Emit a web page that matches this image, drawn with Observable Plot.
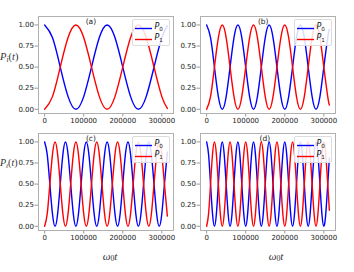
<!DOCTYPE html>
<html><head><meta charset="utf-8">
<script src="https://cdn.jsdelivr.net/npm/d3@7"></script>
<script src="https://cdn.jsdelivr.net/npm/@observablehq/plot@0.6"></script>
<style>
body{margin:0;background:#fff}
#fig{position:relative;width:354px;height:272px;overflow:hidden;background:#fff;font-family:"DejaVu Sans",sans-serif}
.panel{position:absolute}
.lab{position:absolute;font-family:"Liberation Serif",serif;color:#333;white-space:nowrap;line-height:1}
.lab sub{font-size:70%;vertical-align:-0.25em;font-style:normal;line-height:0}
.leg{position:absolute;width:38px;height:27px;box-sizing:border-box;background:rgba(255,255,255,0.85);border:1px solid #dcdcdc;border-radius:2px}
.leg svg{position:absolute;left:0;top:0}
.leg .t{position:absolute;left:22px;font-family:"DejaVu Sans",sans-serif;font-style:italic;font-size:8px;color:#111;line-height:1}
.leg .t sub{font-size:70%;font-style:normal;vertical-align:-0.3em;line-height:0}
</style></head>
<body>
<div id="fig"></div>
<script>
// time axis ticks / labels
const xTicks = [0, 100000, 200000, 300000];
const yTicks = [0, 0.25, 0.5, 0.75, 1.0];
const seriesNames = ["P0", "P1"];
const panelTags = ["(a)", "(b)", "(c)", "(d)"];

// panel (a)
const tA = [0,20000,40000,60000,80000,100000,120000,140000,160000,180000,200000,220000,240000,260000,280000,300000,314159];
const p0A = [1,.85,.5,.15,0,.15,.5,.85,1,.85,.5,.15,0,.15,.5,.85,.99];
const p1A = [0,.15,.5,.85,1,.85,.5,.15,0,.15,.5,.85,1,.85,.5,.15,.01];

// panel (b)
const tB = [0,10000,20000,30000,40000,50000,60000,70000,80000,90000,100000,110000,120000,130000,140000,150000,160000,170000,180000,190000,200000,210000,220000,230000,240000,250000,260000,270000,280000,290000,300000,310000,314159];
const p0B = [1,.85,.5,.15,0,.15,.5,.85,1,.85,.5,.15,0,.15,.5,.85,1,.85,.5,.15,0,.15,.5,.85,1,.85,.5,.15,0,.15,.5,.85,.95];
const p1B = [0,.15,.5,.85,1,.85,.5,.15,0,.15,.5,.85,1,.85,.5,.15,0,.15,.5,.85,1,.85,.5,.15,0,.15,.5,.85,1,.85,.5,.15,.05];

// panel (c)
const tC = [0,6667,13333,20000,26667,33333,40000,46667,53333,60000,66667,73333,80000,86667,93333,100000,106667,113333,120000,126667,133333,140000,146667,153333,160000,166667,173333,180000,186667,193333,200000,206667,213333,220000,226667,233333,240000,246667,253333,260000,266667,273333,280000,286667,293333,300000,306667,314159];
const p0C = [1,.85,.5,.15,0,.15,.5,.85,1,.85,.5,.15,0,.15,.5,.85,1,.85,.5,.15,0,.15,.5,.85,1,.85,.5,.15,0,.15,.5,.85,1,.85,.5,.15,0,.15,.5,.85,1,.85,.5,.15,0,.15,.5,.88];
const p1C = [0,.15,.5,.85,1,.85,.5,.15,0,.15,.5,.85,1,.85,.5,.15,0,.15,.5,.85,1,.85,.5,.15,0,.15,.5,.85,1,.85,.5,.15,0,.15,.5,.85,1,.85,.5,.15,0,.15,.5,.85,1,.85,.5,.12];

// panel (d)
const tD = [0,5000,10000,15000,20000,25000,30000,35000,40000,45000,50000,55000,60000,65000,70000,75000,80000,85000,90000,95000,100000,105000,110000,115000,120000,125000,130000,135000,140000,145000,150000,155000,160000,165000,170000,175000,180000,185000,190000,195000,200000,205000,210000,215000,220000,225000,230000,235000,240000,245000,250000,255000,260000,265000,270000,275000,280000,285000,290000,295000,300000,305000,310000,314159];
const p0D = [1,.85,.5,.15,0,.15,.5,.85,1,.85,.5,.15,0,.15,.5,.85,1,.85,.5,.15,0,.15,.5,.85,1,.85,.5,.15,0,.15,.5,.85,1,.85,.5,.15,0,.15,.5,.85,1,.85,.5,.15,0,.15,.5,.85,1,.85,.5,.15,0,.15,.5,.85,1,.85,.5,.15,0,.15,.5,.81];
const p1D = [0,.15,.5,.85,1,.85,.5,.15,0,.15,.5,.85,1,.85,.5,.15,0,.15,.5,.85,1,.85,.5,.15,0,.15,.5,.85,1,.85,.5,.15,0,.15,.5,.85,1,.85,.5,.15,0,.15,.5,.85,1,.85,.5,.15,0,.15,.5,.85,1,.85,.5,.15,0,.15,.5,.85,1,.85,.5,.19];

const fig = document.getElementById("fig");

function panel(t, p0, p1, tag, tagDx, left, top) {
  const rows0 = t.map((x, i) => ({t: x, p: p0[i]}));
  const rows1 = t.map((x, i) => ({t: x, p: p1[i]}));
  const svg = Plot.plot({
    width: 177, height: 130,
    marginLeft: 38, marginRight: 4, marginTop: 16, marginBottom: 17,
    style: {fontFamily: "DejaVu Sans", fontSize: "7px", color: "#222", background: "transparent", overflow: "visible"},
    x: {domain: [-15708, 329867]},
    y: {domain: [-0.05, 1.1]},
    marks: [
      Plot.axisX({ticks: xTicks, tickFormat: d3.format("d"), tickSize: 3.5, tickPadding: 1.5, label: null, stroke: "#999", fill: "#222"}),
      Plot.axisY({ticks: yTicks, tickFormat: d3.format(".2f"), tickSize: 3.5, tickPadding: 1, label: null, stroke: "#999", fill: "#222"}),
      Plot.line(rows0, {x: "t", y: "p", stroke: "#0000ff", strokeWidth: 1.4, curve: "natural"}),
      Plot.line(rows1, {x: "t", y: "p", stroke: "#ff0000", strokeWidth: 1.4, curve: "natural"}),
      Plot.frame({stroke: "#b0b0b0"}),
      Plot.text([tag], {text: d => d, frameAnchor: "top-left", dx: tagDx, dy: 5, textAnchor: "middle", lineAnchor: "middle", fontSize: 7.5, fill: "#222"})
    ]
  });
  const wrap = document.createElement("div");
  wrap.className = "panel";
  wrap.style.left = left + "px";
  wrap.style.top = top + "px";
  wrap.appendChild(svg);
  fig.appendChild(wrap);

  // legend (upper right of frame)
  const frameRight = left + 173, frameTop = top + 16;
  const leg = document.createElement("div");
  leg.className = "leg";
  leg.style.left = (frameRight - 41.5) + "px";
  leg.style.top = (frameTop + 2.5) + "px";
  leg.innerHTML =
    `<svg width="38" height="27"><line x1="2" x2="19" y1="8.5" y2="8.5" stroke="#0000ff" stroke-width="1.4"/>` +
    `<line x1="2" x2="19" y1="19.5" y2="19.5" stroke="#ff0000" stroke-width="1.4"/></svg>` +
    `<div class="t" style="top:3.5px">P<sub>0</sub></div>` +
    `<div class="t" style="top:14.5px">P<sub>1</sub></div>`;
  fig.appendChild(leg);
}

panel(tA, p0A, p1A, panelTags[0], 52.4, 0, 0);
panel(tB, p0B, p1B, panelTags[1], 62.7, 162, 0);
panel(tC, p0C, p1C, panelTags[2], 52.4, 0, 117);
panel(tD, p0D, p1D, panelTags[3], 64.3, 162, 117);

function label(html, x, y, size, anchorX) {
  const d = document.createElement("div");
  d.className = "lab";
  d.style.left = x + "px";
  d.style.top = y + "px";
  d.style.fontSize = size + "px";
  d.style.transform = `translate(${anchorX},-50%)`;
  d.innerHTML = html;
  fig.appendChild(d);
}
label("<i>P</i><sub><i>i</i></sub>(<i>t</i>)", 0, 57, 10.5, "0");
label("<i>P</i><sub><i>i</i></sub>(<i>t</i>)", 0, 163, 10, "0");
label("<i>ω</i><sub>0</sub><i>t</i>", 110, 256, 11, "-50%");
label("<i>ω</i><sub>0</sub><i>t</i>", 276, 256, 11, "-50%");
</script>
</body></html>
